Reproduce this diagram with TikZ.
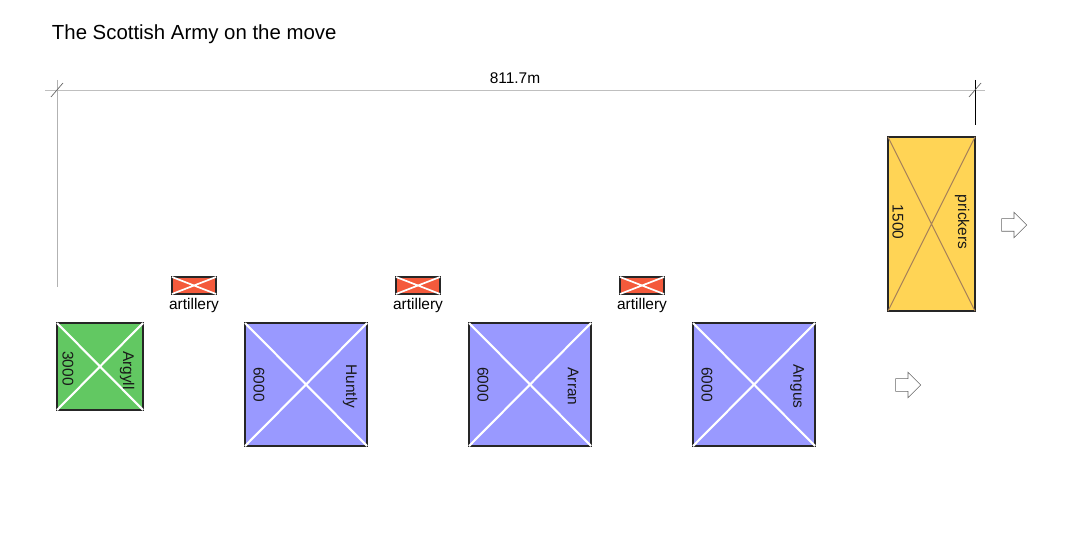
\documentclass[tikz,border=0pt]{standalone}
\usepackage{fontspec}
\setmainfont{Liberation Sans}
\usetikzlibrary{positioning,calc,shapes.arrows}
\definecolor{argyllgreen}{RGB}{98,200,98}
\definecolor{battleblue}{RGB}{153,153,255}
\definecolor{prickyellow}{RGB}{255,212,85}
\definecolor{artred}{RGB}{244,90,60}
\tikzset{
    unit/.style={draw=black!85, line width=0.8pt, anchor=north west, inner sep=0pt, outer sep=0pt},
    artbox/.style={unit, fill=artred, minimum width=1.1cm, minimum height=0.425cm},
    cross/.style={white, line width=1.5pt},
    sidetext/.style={rotate=-90, font=\fontsize{11}{13}\selectfont, text=black!90},
    arrowmark/.style={single arrow, draw=black!60, fill=white, line width=0.4pt,
        minimum height=0.625cm, single arrow head extend=0.16cm, inner sep=0.15cm}
}
\begin{document}
\begin{tikzpicture}[x=0.025cm, y=-0.025cm]
    \useasboundingbox (0,0) rectangle (1073,537);
    \node[anchor=west, font=\fontsize{14.5}{17}\selectfont] at (47,34) (title) {The Scottish Army on the move};

    % dimension line
    \coordinate (dimL) at (57,90);
    \coordinate (dimR) at (975,90);
    \draw[black!25, line width=0.6pt] ($(dimL)+(-12,0)$) -- ($(dimR)+(10,0)$);
    \draw[black!30, line width=0.6pt] ($(dimL)+(0,-10)$) -- ($(dimL)+(0,197)$);
    \draw[black, line width=0.6pt] ($(dimR)+(0,-10)$) -- ($(dimR)+(0,35)$);
    \draw[black!60, line width=0.5pt] ($(dimL)+(-6,7)$) -- ($(dimL)+(6,-7)$);
    \draw[black!60, line width=0.5pt] ($(dimR)+(-6,7)$) -- ($(dimR)+(6,-7)$);
    \node[font=\fontsize{11}{13}\selectfont] at (515,78) (dist) {811.7m};

    % units
    \node[unit, fill=argyllgreen, minimum width=2.15cm, minimum height=2.175cm] at (57,323) (Argyll) {};
    \node[unit, fill=battleblue, minimum width=3.05cm, minimum height=3.075cm] at (245,323) (Huntly) {};
    \node[unit, fill=battleblue, minimum width=3.05cm, minimum height=3.075cm] at (469,323) (Arran) {};
    \node[unit, fill=battleblue, minimum width=3.05cm, minimum height=3.075cm] at (693,323) (Angus) {};
    \node[unit, fill=prickyellow, minimum width=2.175cm, minimum height=4.35cm] at (888,137) (prick) {};

    \draw[cross] (Argyll.north west) -- (Argyll.south east) (Argyll.south west) -- (Argyll.north east);
    \draw[cross] (Huntly.north west) -- (Huntly.south east) (Huntly.south west) -- (Huntly.north east);
    \draw[cross] (Arran.north west) -- (Arran.south east) (Arran.south west) -- (Arran.north east);
    \draw[cross] (Angus.north west) -- (Angus.south east) (Angus.south west) -- (Angus.north east);
    \draw[cross, draw=brown!60!gray, line width=0.7pt] (prick.north west) -- (prick.south east) (prick.south west) -- (prick.north east);

    \node[sidetext] at ($(Argyll.west)+(11,2)$) {3000};
    \node[sidetext] at ($(Argyll.east)+(-16,4)$) {Argyll};
    \node[sidetext] at ($(Huntly.west)+(14,0)$) {6000};
    \node[sidetext] at ($(Huntly.east)+(-17,2)$) {Huntly};
    \node[sidetext] at ($(Arran.west)+(14,0)$) {6000};
    \node[sidetext] at ($(Arran.east)+(-18,2)$) {Arran};
    \node[sidetext] at ($(Angus.west)+(14,0)$) {6000};
    \node[sidetext] at ($(Angus.east)+(-18,2)$) {Angus};
    \node[sidetext] at ($(prick.west)+(10,-2)$) {1500};
    \node[sidetext] at ($(prick.east)+(-13,-2)$) {prickers};

    % artillery
    \node[artbox] at (172,277) (art1) {};
    \node[artbox] at (396,277) (art2) {};
    \node[artbox] at (620,277) (art3) {};
    \draw[cross, line width=1.2pt] (art1.north west) -- (art1.south east) (art1.south west) -- (art1.north east);
    \draw[cross, line width=1.2pt] (art2.north west) -- (art2.south east) (art2.south west) -- (art2.north east);
    \draw[cross, line width=1.2pt] (art3.north west) -- (art3.south east) (art3.south west) -- (art3.north east);
    \node[below=2pt of art1, inner sep=1pt, font=\fontsize{11}{13}\selectfont] (art1lab) {artillery};
    \node[below=2pt of art2, inner sep=1pt, font=\fontsize{11}{13}\selectfont] (art2lab) {artillery};
    \node[below=2pt of art3, inner sep=1pt, font=\fontsize{11}{13}\selectfont] (art3lab) {artillery};

    % direction of march
    \node[arrowmark] at (1011,225) (go1) {};
    \node[arrowmark] at (905,385) (go2) {};
\end{tikzpicture}
\end{document}
